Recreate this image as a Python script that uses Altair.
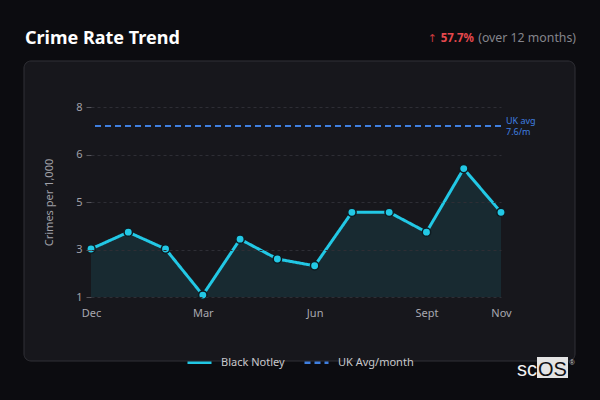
import jinja2
import pandas as pd
import altair as alt

# monthly crime rate, Dec -> Nov
months = ["Dec", "Jan", "Feb", "Mar", "Apr", "May", "Jun", "Jul", "Aug", "Sept", "Oct", "Nov"]
rates = [2.77, 3.39, 2.77, 1.07, 3.13, 2.40, 2.15, 4.12, 4.12, 3.39, 5.73, 4.12]
uk_avg = 7.3
uk_label = "UK avg\n7.6/m"
series = ["Black Notley", "UK Avg/month"]
y_ticks = [1, 2.75, 4.5, 6.25, 8]
x_ticks = ["Dec", "Mar", "Jun", "Sept", "Nov"]

CYAN = "#22c8e5"
BLUE = "#3f7fe0"
RED = "#e5484d"
FONT = "Noto Sans"

# same page as the standard one, just with a dark body so the margin isn't white
PAGE = jinja2.Template("""<!DOCTYPE html>
<html>
<head>
  <style>body { background: #0c0c10; }</style>
  <script type="text/javascript" src="{{ base_url }}/vega@{{ vega_version }}"></script>
  <script type="text/javascript" src="{{ base_url }}/vega-lite@{{ vegalite_version }}"></script>
  <script type="text/javascript" src="{{ base_url }}/vega-embed@{{ vegaembed_version }}"></script>
</head>
<body>
  <div id="{{ output_div }}"></div>
  <script type="text/javascript">
    var spec = {{ spec }};
    var embedOpt = {{ embed_options }};
    vegaEmbed("#{{ output_div }}", spec, embedOpt).catch(console.error);
  </script>
</body>
</html>""")

df = pd.DataFrame({"month": months, "rate": rates, "series": series[0]})
uk = pd.DataFrame({"value": [uk_avg], "series": [series[1]]})
one = pd.DataFrame({"k": [0]})

x = alt.X("month:N", sort=months, scale=alt.Scale(domain=months, type="point", padding=0),
          axis=alt.Axis(values=x_ticks, title=None, labelAngle=0, domain=False, ticks=False,
                        labelPadding=10, labelColor="#a8a8b0", labelFontSize=11, labelFont=FONT,
                        grid=False, zindex=1))
y = alt.Y("rate:Q", scale=alt.Scale(domain=[1, 8], zero=False, nice=False),
          axis=alt.Axis(values=y_ticks, format=".0f", title="Crimes per 1,000", titleColor="#a0a0a8",
                        titleFontSize=11, titleFontWeight="normal", titleFont=FONT, titlePadding=21,
                        labelColor="#a0a0a8", labelFontSize=11, labelFont=FONT, labelPadding=4,
                        tickSize=5, tickColor="#55555c", domain=False,
                        grid=True, gridColor="#2e2e35", gridDash=[3, 3], zindex=1))

color = alt.Color("series:N", scale=alt.Scale(domain=series, range=[CYAN, BLUE]),
                  legend=alt.Legend(title=None, orient="none", legendX=95, legendY=242,
                                    direction="horizontal", symbolType="stroke", symbolSize=576,
                                    symbolStrokeWidth=2.5, labelColor="#c8c8cc", labelFontSize=11,
                                    labelFont=FONT, labelOffset=8, columnPadding=14, padding=0))
dash = alt.StrokeDash("series:N", scale=alt.Scale(domain=series, range=[[1, 0], [6, 4]]), legend=None)

card = alt.Chart(one).mark_rect(fill="#17171c", stroke="#303036", strokeWidth=1, cornerRadius=7).encode(
    x=alt.value(-67), x2=alt.value(484), y=alt.value(-46), y2=alt.value(254))

area = alt.Chart(df).mark_area(color=CYAN, opacity=0.11).encode(x=x, y=y, y2=alt.datum(1))
line = alt.Chart(df).mark_line(strokeWidth=3).encode(x=x, y=y, color=color, strokeDash=dash)
pts = alt.Chart(df).mark_point(filled=True, size=70, fill=CYAN, stroke="#0e1a20",
                               strokeWidth=1.5, opacity=1).encode(x=x, y=y)

rule = alt.Chart(uk).mark_rule(strokeWidth=2).encode(
    y=alt.Y("value:Q", scale=alt.Scale(domain=[1, 8], zero=False, nice=False)),
    color=color, strokeDash=dash)
uk_text = alt.Chart(uk).mark_text(align="left", baseline="middle", dx=5, dy=-5, fontSize=9,
                                  font=FONT, color=BLUE, lineBreak="\n", lineHeight=11).encode(
    x=alt.datum("Nov"), y=alt.Y("value:Q"), text=alt.value(uk_label))

title = alt.Chart(one).mark_text(align="left", baseline="alphabetic", fontSize=18, fontWeight="bold",
                                 font=FONT, color="#ffffff").encode(
    x=alt.value(-66), y=alt.value(-63), text=alt.value("Crime Rate Trend"))
sub = alt.Chart(one).mark_text(align="right", baseline="alphabetic", fontSize=12.3, font=FONT,
                               color="#85858c").encode(
    x=alt.value(485), y=alt.value(-65), text=alt.value("(over 12 months)"))
pct = alt.Chart(one).mark_text(align="right", baseline="alphabetic", fontSize=11.5, fontWeight="bold",
                               font=FONT, color=RED).encode(
    x=alt.value(383), y=alt.value(-65), text=alt.value("57.7%"))
arrow = alt.Chart(one).mark_text(align="right", baseline="alphabetic", fontSize=11,
                                 font="DejaVu Sans", color="#c9393e").encode(
    x=alt.value(346), y=alt.value(-65), text=alt.value("↑"))

logo_box = alt.Chart(one).mark_rect(fill="#e4e4e4").encode(
    x=alt.value(446), x2=alt.value(477), y=alt.value(250), y2=alt.value(271))
logo_sc = alt.Chart(one).mark_text(align="right", baseline="alphabetic", fontSize=20,
                                   font="Liberation Sans", color="#f2f2f2").encode(
    x=alt.value(446), y=alt.value(269), text=alt.value("sc"))
logo_os = alt.Chart(one).mark_text(align="center", baseline="alphabetic", fontSize=20,
                                   font="Liberation Sans", color="#111114").encode(
    x=alt.value(461.5), y=alt.value(269), text=alt.value("OS"))
logo_r = alt.Chart(one).mark_text(align="center", baseline="middle", fontSize=7,
                                  font="Liberation Sans", color="#d0d0d0").encode(
    x=alt.value(481), y=alt.value(256), text=alt.value("®"))

chart = alt.layer(card, area, rule, uk_text, line, pts, title, sub, pct, arrow,
                  logo_box, logo_sc, logo_os, logo_r).properties(
    width=410, height=190, autosize="none",
    padding={"left": 83, "top": 99, "right": 91, "bottom": 90},
    background="#0c0c10",
).configure_view(stroke=None)

chart.save("out.html", embed_options={"renderer": "svg", "actions": False}, template=PAGE)
